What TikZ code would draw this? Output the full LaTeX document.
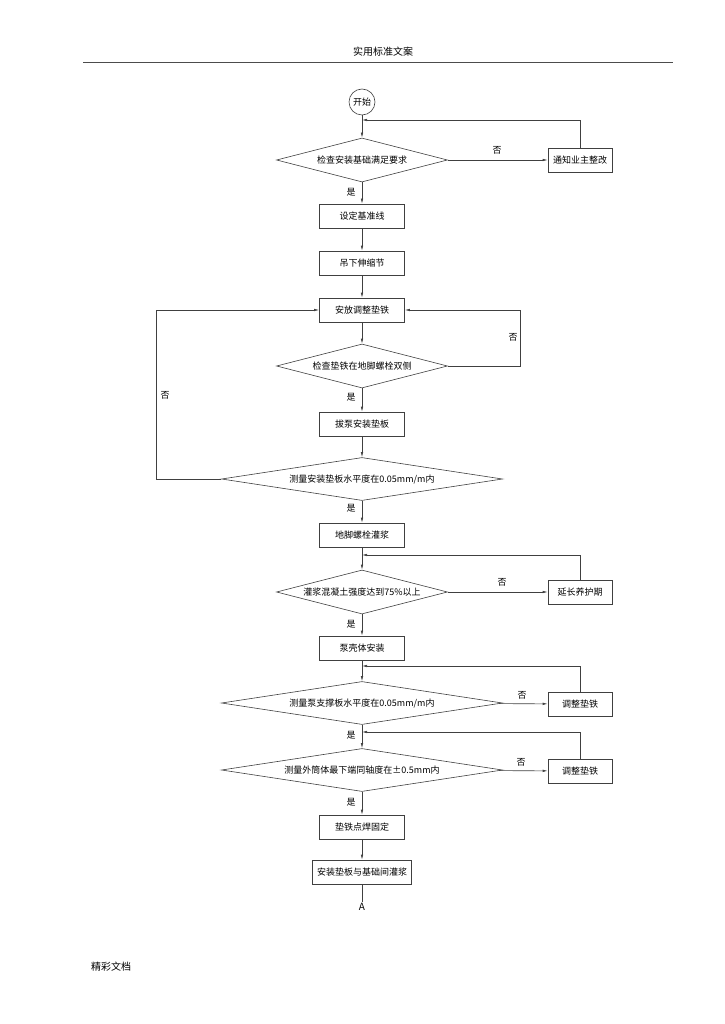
\documentclass[tikz,border=0pt]{standalone}
\usepackage{fontspec}
\setmainfont{Noto Sans CJK SC}
\usetikzlibrary{shapes.geometric,arrows.meta}

\tikzset{
	box/.style={draw, rectangle, minimum width=85pt, minimum height=24pt, inner sep=2pt, font=\fontsize{9}{10}\selectfont},
	sidebox/.style={box, minimum width=64pt},
	test/.style={draw, diamond, aspect=4, minimum width=171pt, minimum height=44pt, inner sep=0pt, font=\fontsize{9}{10}\selectfont},
	widetest/.style={test, aspect=6, minimum width=281pt, minimum height=43pt},
	flow/.style={draw, -{Latex[length=5pt,width=2.5pt]}},
	tag/.style={font=\fontsize{9}{10}\selectfont, inner sep=1pt},
}

\begin{document}
\begin{tikzpicture}[x=1pt,y=-1pt,line width=0.6pt,draw=black!75]
	\useasboundingbox (0,0) rectangle (724,1024);

	%PAGE HEADER AND FOOTER
	\node[font=\fontsize{10}{12}\selectfont] (head) at (383,52) {实用标准文案};
	\coordinate (ruleL) at (83,62);
	\coordinate (ruleR) at (673,62);
	\draw[black!70,line width=0.9pt] (ruleL)--(ruleR);
	\node[font=\fontsize{10}{12}\selectfont] (foot) at (111,967) {精彩文档};

	%MAIN COLUMN
	\node[draw,circle,minimum size=26pt,inner sep=0pt,font=\fontsize{9}{10}\selectfont] (start) at (362,102) {开始};
	\node[test] (chkbase) at (362,160) {检查安装基础满足要求};
	\node[box] (baseline) at (362,216) {设定基准线};
	\node[box] (joint) at (362,263) {吊下伸缩节};
	\node[box] (shim) at (362,310) {安放调整垫铁};
	\node[test] (chkshim) at (362,366) {检查垫铁在地脚螺栓双侧};
	\node[box] (plate) at (362,424) {拔泵安装垫板};
	\node[widetest] (level1) at (362,479) {测量安装垫板水平度在0.05mm/m内};
	\node[box] (grout) at (362,535) {地脚螺栓灌浆};
	\node[test] (strength) at (362,592) {灌浆混凝土强度达到75\%以上};
	\node[box] (casing) at (362,648) {泵壳体安装};
	\node[widetest] (level2) at (362,703) {测量泵支撑板水平度在0.05mm/m内};
	\node[widetest] (coax) at (362,770) {测量外筒体最下端同轴度在±0.5mm内};
	\node[box] (weld) at (362,827) {垫铁点焊固定};
	\node[box,minimum width=99pt] (final) at (362,872) {安装垫板与基础间灌浆};
	\node[font=\fontsize{10}{12}\selectfont,inner sep=1pt] (contA) at (362,907) {A};
	%
	\node[sidebox] (notify) at (580,160) {通知业主整改};
	\node[sidebox] (cure) at (580,592) {延长养护期};
	\node[sidebox] (adj1) at (580,704) {调整垫铁};
	\node[sidebox] (adj2) at (580,771) {调整垫铁};

	%JOIN POINTS ON THE MAIN LINE
	\coordinate (j1) at (362,120);
	\coordinate (j2) at (362,555);
	\coordinate (j3) at (362,666);
	\coordinate (j4) at (362,732);

	%DOWNWARD FLOW
	\draw[flow] (start)--(chkbase);
	\draw[flow] (chkbase)--(baseline);
	\draw[flow] (baseline)--(joint);
	\draw[flow] (joint)--(shim);
	\draw[flow] (shim)--(chkshim);
	\draw[flow] (chkshim)--(plate);
	\draw[flow] (plate)--(level1);
	\draw[flow] (level1)--(grout);
	\draw[flow] (grout)--(strength);
	\draw[flow] (strength)--(casing);
	\draw[flow] (casing)--(level2);
	\draw[flow] (level2)--(coax);
	\draw[flow] (coax)--(weld);
	\draw[flow] (weld)--(final);
	\draw (final)--(contA);

	%NO BRANCHES
	\draw[flow] (chkbase)--(notify);
	\draw[flow] (notify.north) |- (j1);
	\draw[flow] (strength)--(cure);
	\draw[flow] (cure.north) |- (j2);
	\draw[flow] (level2)--(adj1);
	\draw[flow] (adj1.north) |- (j3);
	\draw[flow] (coax)--(adj2);
	\draw[flow] (adj2.north) |- (j4);
	\draw[flow] (chkshim.east)--++(72,0) |- (shim.east);
	\draw[flow] (level1.west)--++(-65,0) |- (shim.west);

	%LABELS
	\node[tag] (no1) at (497,150) {否};
	\node[tag] (no2) at (513,337) {否};
	\node[tag] (no3) at (165,395) {否};
	\node[tag] (no4) at (502,582) {否};
	\node[tag] (no5) at (522,695) {否};
	\node[tag] (no6) at (521,762) {否};
	%
	\node[tag] (yes1) at (351,192) {是};
	\node[tag] (yes2) at (351,397) {是};
	\node[tag] (yes3) at (351,508) {是};
	\node[tag] (yes4) at (351,624) {是};
	\node[tag] (yes5) at (351,735) {是};
	\node[tag] (yes6) at (351,802) {是};
\end{tikzpicture}
\end{document}
